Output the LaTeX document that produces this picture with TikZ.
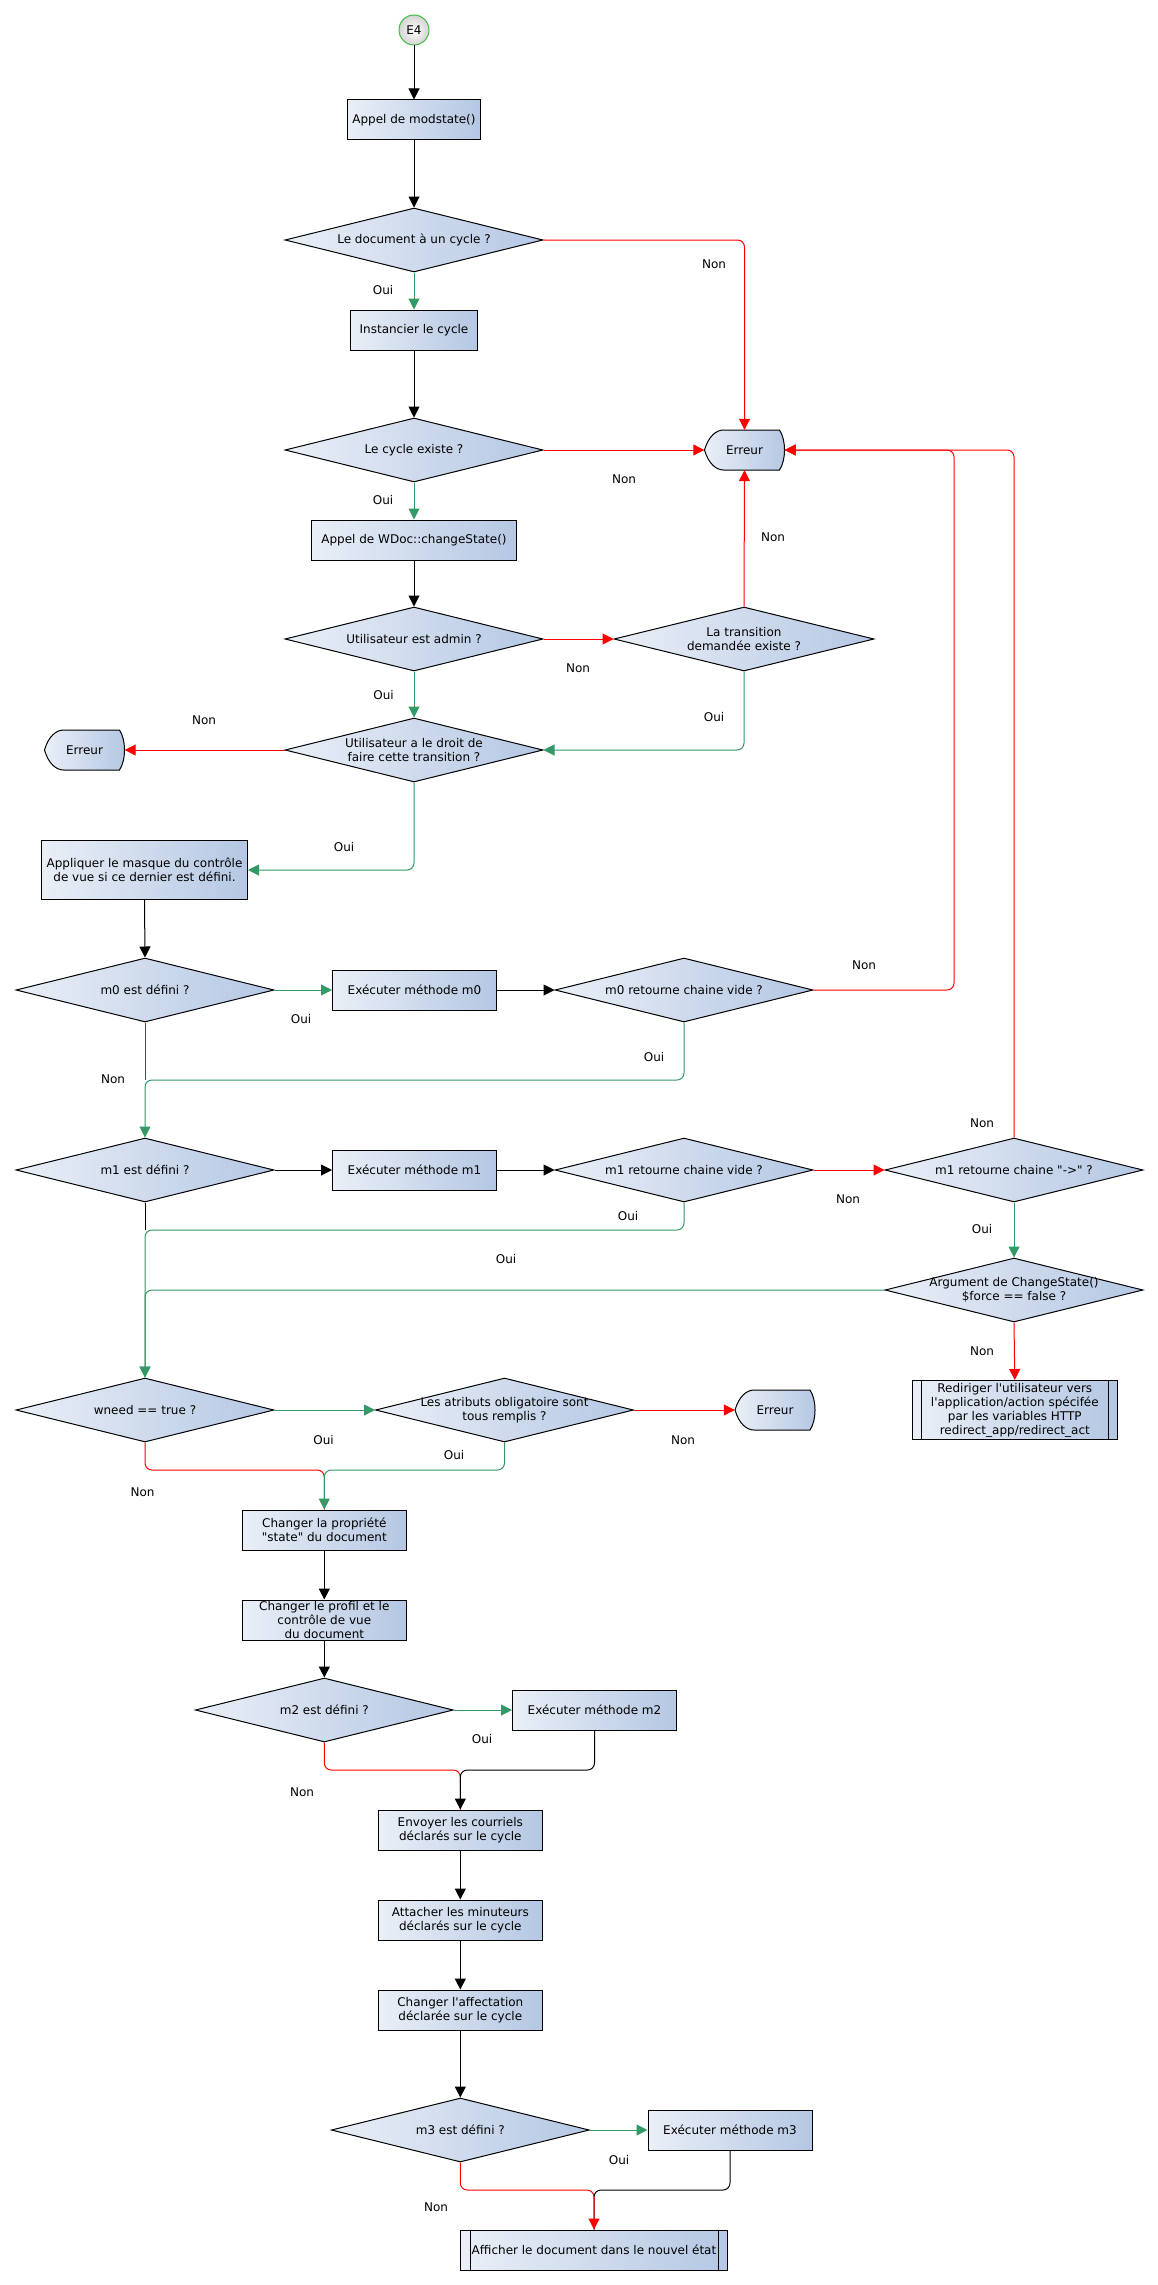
\documentclass[tikz,border=0pt]{standalone}
\usepackage{fontspec}
\setmainfont{DejaVu Sans}
\newfontfamily\djv{DejaVu Sans}
\usetikzlibrary{shapes.geometric, arrows.meta, calc}
\definecolor{gl}{RGB}{234,239,247}
\definecolor{gr}{RGB}{180,199,227}
\definecolor{okgreen}{RGB}{51,153,102}
\definecolor{nored}{RGB}{255,0,0}
\definecolor{startgreen}{RGB}{68,187,68}
\definecolor{startgray}{RGB}{212,212,212}
\newcommand\errbox[3]{%
  \path[errshape, shift={#2}] (-40,0) .. controls (-36,-14) and (-28,-20) .. (-21,-20)
    -- (35,-20) .. controls (41.7,-10) and (41.7,10) .. (35,20)
    -- (-21,20) .. controls (-28,20) and (-36,14) .. (-40,0) -- cycle;
  \node[errnode] (#1) at #2 {#3};}
\begin{document}
\begin{tikzpicture}[x=1pt,y=-1pt,
  every node/.style={font=\djv\fontsize{12}{14}\selectfont},
  base/.style={draw=black, line width=1pt, left color=gl, right color=gr, inner sep=0pt, align=center},
  proc/.style={base, rectangle, minimum height=40},
  dec/.style={base, diamond, aspect=4, minimum width=258, minimum height=64},
  dtext/.style={align=center, inner sep=0pt},
  lbl/.style={inner sep=0pt},
  errnode/.style={rectangle, minimum width=80, minimum height=40, inner sep=0pt},
  errshape/.style={draw=black, line width=1pt, left color=gl, right color=gr},
  conn/.style={line width=1pt, rounded corners=7pt},
  con/.style={conn, -{Triangle[length=11pt,width=11pt]}},
  okc/.style={color=okgreen},
  noc/.style={color=nored}
]
\fill[white] (0,0) rectangle (1158,2285);
\useasboundingbox (0,0) rectangle (1158,2285);

% ---------- nodes ----------
\node[circle, draw=startgreen, line width=1pt, minimum size=30, inner sep=0pt,
      inner color=white, outer color=startgray] (e4) at (414,30) {E4};
\node[proc, minimum width=133] (n1) at (414,120) {Appel de modstate()};
\node[dec] (d1) at (414,240) {};
\node[dtext] (d1t) at (d1) {Le document à un cycle ?};
\node[proc, minimum width=127] (n2) at (414,330) {Instancier le cycle};
\node[dec] (d2) at (414,450) {};
\node[dtext] (d2t) at (d2) {Le cycle existe ?};
\errbox{err1}{(744.5,450)}{Erreur}
\node[proc, minimum width=205] (n3) at (414,540) {Appel de WDoc::changeState()};
\node[dec] (d3) at (414,639) {};
\node[dtext] (d3t) at (d3) {Utilisateur est admin ?};
\node[dec, minimum width=260] (d4) at (744,639) {};
\node[dtext] (d4t) at (d4) {La transition\\demandée existe ?};
\node[dec] (d5) at (414,750) {};
\node[dtext] (d5t) at (d5) {Utilisateur a le droit de\\faire cette transition ?};
\errbox{err2}{(84.5,750)}{Erreur}
\node[proc, minimum width=206, minimum height=59] (n4) at (144.5,870) {Appliquer le masque du contrôle\\de vue si ce dernier est défini.};
\node[dec] (d6) at (145,990) {};
\node[dtext] (d6t) at (d6) {m0 est défini ?};
\node[proc, minimum width=164] (n5) at (414.5,990) {Exécuter méthode m0};
\node[dec] (d7) at (684,990) {};
\node[dtext] (d7t) at (d7) {m0 retourne chaine vide ?};
\node[dec] (d8) at (145,1170) {};
\node[dtext] (d8t) at (d8) {m1 est défini ?};
\node[proc, minimum width=164] (n6) at (414.5,1170) {Exécuter méthode m1};
\node[dec] (d9) at (684,1170) {};
\node[dtext] (d9t) at (d9) {m1 retourne chaine vide ?};
\node[dec] (d10) at (1014,1170) {};
\node[dtext] (d10t) at (d10) {m1 retourne chaine "->" ?};
\node[dec] (d11) at (1014,1290) {};
\node[dtext] (d11t) at (d11) {Argument de ChangeState()\\\$force == false ?};
\node[proc, minimum width=205.5, minimum height=59] (n7) at (1014.8,1410) {Rediriger l'utilisateur vers\\l'application/action spécifée\\par les variables HTTP\\redirect\_app/redirect\_act};
\draw[line width=1pt] ($(n7.north west)+(10,0)$) -- ($(n7.south west)+(10,0)$);
\draw[line width=1pt] ($(n7.north east)+(-10,0)$) -- ($(n7.south east)+(-10,0)$);
\node[dec] (d12) at (145,1410) {};
\node[dtext] (d12t) at (d12) {wneed == true ?};
\node[dec] (d13) at (504.5,1410) {};
\node[dtext] (d13t) at (d13) {Les atributs obligatoire sont\\tous remplis ?};
\errbox{err3}{(775,1410)}{Erreur}
\node[proc, minimum width=164] (n8) at (324.3,1530) {Changer la propriété\\"state" du document};
\node[proc, minimum width=164] (n9) at (324.3,1620) {Changer le profil et le\\contrôle de vue\\du document};
\node[dec] (d14) at (324.3,1710) {};
\node[dtext] (d14t) at (d14) {m2 est défini ?};
\node[proc, minimum width=164] (n10) at (594.5,1710) {Exécuter méthode m2};
\node[proc, minimum width=164] (n11) at (460.3,1830) {Envoyer les courriels\\déclarés sur le cycle};
\node[proc, minimum width=164] (n12) at (460.3,1920) {Attacher les minuteurs\\déclarés sur le cycle};
\node[proc, minimum width=164] (n13) at (460.3,2010) {Changer l'affectation\\déclarée sur le cycle};
\node[dec] (d15) at (460.3,2130) {};
\node[dtext] (d15t) at (d15) {m3 est défini ?};
\node[proc, minimum width=164] (n14) at (730,2130) {Exécuter méthode m3};
\node[proc, minimum width=267] (n15) at (594,2250) {Afficher le document dans le nouvel état};
\draw[line width=1pt] ($(n15.north west)+(10,0)$) -- ($(n15.south west)+(10,0)$);
\draw[line width=1pt] ($(n15.north east)+(-10,0)$) -- ($(n15.south east)+(-10,0)$);

% ---------- junction coordinates ----------
\coordinate (c7) at (954,450);
\coordinate (c10) at (1014,450);
\coordinate (j1) at (145,1080);
\coordinate (j2) at (145,1230);
\coordinate (j3) at (324.3,1470);
\coordinate (j4) at (460.3,1770);
\coordinate (j5) at (594,2190);

% ---------- connectors ----------
\draw[con] (e4) -- (n1);
\draw[con] (n1) -- (d1);
\draw[con, okc] (d1.south) -- (n2.north);
\draw[con, noc] (d1.east) -| (err1.north);
\draw[con] (n2) -- (d2);
\draw[con, noc] (d2.east) -- (err1.west);
\draw[con, okc] (d2.south) -- (n3.north);
\draw[con] (n3) -- (d3);
\draw[con, noc] (d3.east) -- (d4.west);
\draw[con, noc] (d4.north) -- (err1.south);
\draw[con, okc] (d3.south) -- (d5.north);
\draw[con, okc] (d4.south) |- (d5.east);
\draw[con, noc] (d5.west) -- (err2.east);
\draw[con, okc] (d5.south) |- (n4.east);
\draw[con] (n4.south) -- (d6.north);
\draw[con, okc] (d6.east) -- (n5.west);
\draw[con] (n5.east) -- (d7.west);
\draw[con, noc] (d7.east) -| (c7) -- (err1.east);
\draw[conn, noc] (d6.south) -- (j1);
\draw[con, okc] (d7.south) |- (j1) -- (d8.north);
\draw[con] (d8.east) -- (n6.west);
\draw[con] (n6.east) -- (d9.west);
\draw[con, noc] (d9.east) -- (d10.west);
\draw[con, noc] (d10.north) -- (c10) -- (err1.east);
\draw[conn] (d8.south) -- (j2);
\draw[con, okc] (d9.south) |- (j2) -- (d12.north);
\draw[con, okc] (d10.south) -- (d11.north);
\draw[con, okc] (d11.west) -| (d12.north);
\draw[con, noc] (d11.south) -- (n7.north);
\draw[con, okc] (d12.east) -- (d13.west);
\draw[con, noc] (d13.east) -- (err3.west);
\draw[conn, noc] (d12.south) |- (j3) -- (n8.north);
\draw[con, okc] (d13.south) |- (j3) -- (n8.north);
\draw[con] (n8) -- (n9);
\draw[con] (n9) -- (d14);
\draw[con, okc] (d14.east) -- (n10.west);
\draw[conn, noc] (d14.south) |- (j4) -- (n11.north);
\draw[con] (n10.south) |- (j4) -- (n11.north);
\draw[con] (n11) -- (n12);
\draw[con] (n12) -- (n13);
\draw[con] (n13) -- (d15);
\draw[con, okc] (d15.east) -- (n14.west);
\draw[conn] (n14.south) |- (j5) -- (n15.north);
\draw[con, noc] (d15.south) |- (j5) -- (n15.north);

% ---------- connector labels ----------
\node[lbl] (l1) at (383,290) {Oui};
\node[lbl] (l2) at (714,264) {Non};
\node[lbl] (l3) at (624,479) {Non};
\node[lbl] (l4) at (383,500) {Oui};
\node[lbl] (l5) at (578,668) {Non};
\node[lbl] (l6) at (773,537) {Non};
\node[lbl] (l7) at (383.5,695) {Oui};
\node[lbl] (l8) at (714,717) {Oui};
\node[lbl] (l9) at (204,720) {Non};
\node[lbl] (l10) at (344,847) {Oui};
\node[lbl] (l11) at (301,1019) {Oui};
\node[lbl] (l12) at (864,965) {Non};
\node[lbl] (l13) at (654,1057) {Oui};
\node[lbl] (l14) at (113,1079) {Non};
\node[lbl] (l15) at (848,1199) {Non};
\node[lbl] (l16) at (982,1123) {Non};
\node[lbl] (l17) at (628,1216) {Oui};
\node[lbl] (l18) at (982,1229) {Oui};
\node[lbl] (l19) at (506,1259) {Oui};
\node[lbl] (l20) at (982,1351) {Non};
\node[lbl] (l21) at (323.5,1440) {Oui};
\node[lbl] (l22) at (683,1440) {Non};
\node[lbl] (l23) at (454,1455) {Oui};
\node[lbl] (l24) at (142.5,1492) {Non};
\node[lbl] (l25) at (482,1739) {Oui};
\node[lbl] (l26) at (302,1792) {Non};
\node[lbl] (l27) at (619,2160) {Oui};
\node[lbl] (l28) at (436,2207) {Non};
\end{tikzpicture}
\end{document}
